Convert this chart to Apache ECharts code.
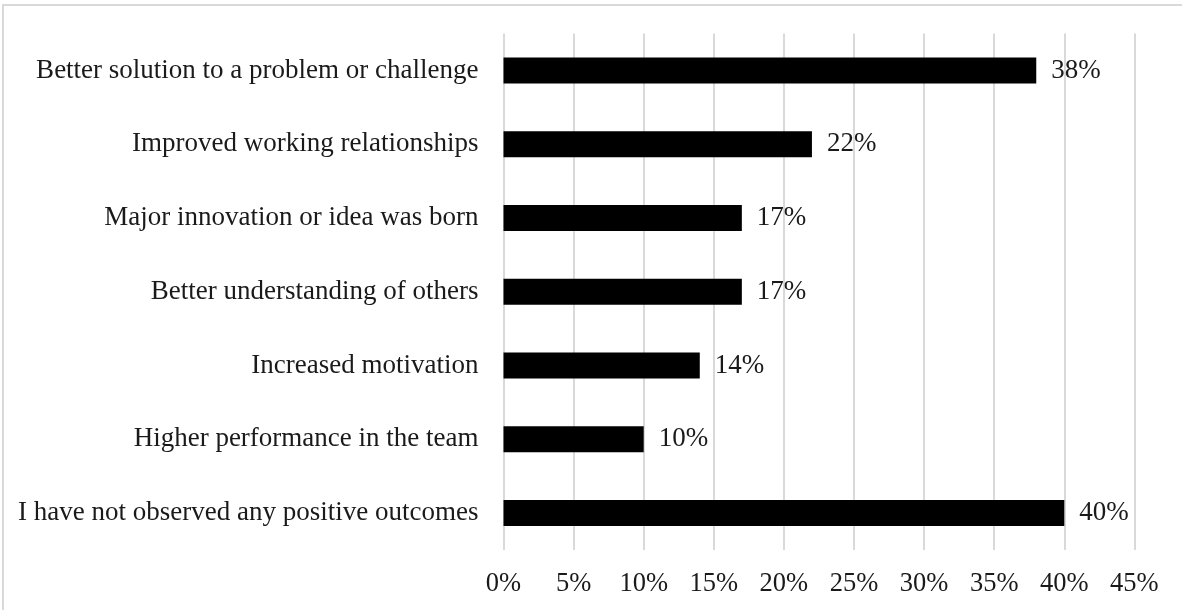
<!DOCTYPE html>
<html>
<head>
<meta charset="utf-8">
<style>html,body{margin:0;padding:0;background:#fff;}#c{width:1182px;height:610px;}</style>
<script src="https://cdn.jsdelivr.net/npm/echarts@6/dist/echarts.min.js"></script>
</head>
<body>
<div id="c"></div>
<script>
const categories = [
  "Better solution to a problem or challenge",
  "Improved working relationships",
  "Major innovation or idea was born",
  "Better understanding of others",
  "Increased motivation",
  "Higher performance in the team",
  "I have not observed any positive outcomes"
];
const values = [38, 22, 17, 17, 14, 10, 40];
const xTicks = [0, 5, 10, 15, 20, 25, 30, 35, 40, 45];

const chart = echarts.init(document.getElementById('c'));
const font = '"Liberation Serif", "Times New Roman", serif';
chart.setOption({
  animation: false,
  backgroundColor: '#fff',
  graphic: [{
    type: 'rect',
    shape: { x: 3, y: 5, width: 1300, height: 700 },
    style: { fill: 'none', stroke: '#d9d9d9', lineWidth: 2 },
    silent: true
  }],
  grid: { left: 503.5, right: 47.6, top: 33.6, bottom: 60, containLabel: false },
  xAxis: {
    type: 'value',
    min: xTicks[0],
    max: xTicks[xTicks.length - 1],
    interval: 5,
    axisLine: { show: false },
    axisTick: { show: false },
    splitLine: { show: true, lineStyle: { color: '#d9d9d9', width: 2 } },
    axisLabel: {
      formatter: v => v + '%',
      fontFamily: font, fontSize: 26.5, color: '#1a1a1a', margin: 21
    }
  },
  yAxis: {
    type: 'category',
    data: categories,
    inverse: true,
    axisLine: { show: false },
    axisTick: { show: false },
    axisLabel: { fontFamily: font, fontSize: 27, color: '#1a1a1a', margin: 25 }
  },
  series: [{
    type: 'bar',
    data: values,
    barWidth: 26,
    itemStyle: { color: '#000' },
    label: {
      show: true, position: 'right', distance: 15,
      formatter: p => p.value + '%',
      fontFamily: font, fontSize: 27, color: '#1a1a1a'
    }
  }]
});
</script>
</body>
</html>
